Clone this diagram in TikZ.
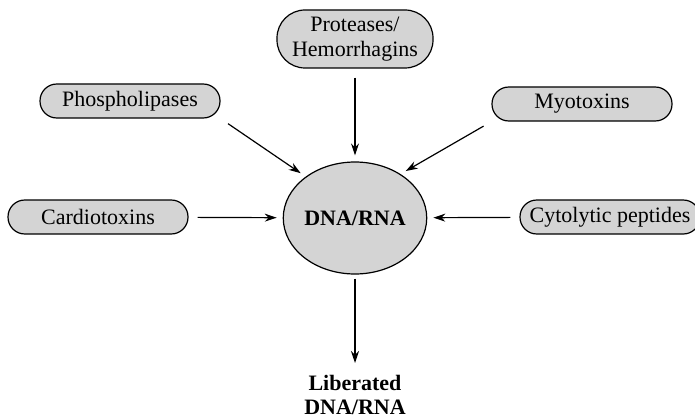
\documentclass[tikz,border=0pt]{standalone}
\usepackage{fontspec}
\setmainfont{Liberation Serif}
\usetikzlibrary{arrows.meta,shapes.geometric}

\begin{document}
\begin{tikzpicture}[x=0.5pt, y=-0.5pt,
  agent/.style={draw, fill=black!17, rounded corners=8.4pt, minimum width=90pt, minimum height=17pt, inner sep=1pt, line width=0.6pt, font=\fontsize{11}{12.5}\selectfont},
  core/.style={draw, ellipse, fill=black!17, minimum width=63pt, minimum height=56pt, inner sep=0pt, line width=0.6pt, font=\fontsize{11}{13}\selectfont\bfseries},
  link/.style={-{Stealth[length=6pt,width=4pt]}, line width=0.6pt, shorten <=4.5pt, shorten >=3pt}]
\useasboundingbox (0,0) rectangle (695,417);

% centre
\node[core] (dna) at (355,218) {DNA/RNA};

% toxins round it
\node[agent, minimum width=78pt, minimum height=29pt, rounded corners=14pt, align=center] (prot) at (355,39) {Proteases/\\Hemorrhagins};
\node[agent] (phos) at (130,101) {Phospholipases};
\node[agent] (myo) at (582,104) {Myotoxins};
\node[agent] (cardio) at (98,217) {Cardiotoxins};
\node[agent] (cyto) at (610,217) {Cytolytic peptides};

\node[font=\fontsize{11}{12}\selectfont\bfseries, align=center, inner sep=0pt, anchor=north] (lib) at (355,375) {Liberated\\DNA/RNA};

\draw[link] (prot) -- (dna);
\draw[link] (phos.south east) -- (dna.140);
\draw[link] (myo.south west) -- (dna.44);
\draw[link] (cardio) -- (dna);
\draw[link] (cyto) -- (dna);
\draw[link, shorten <=2pt, shorten >=6pt] (dna) -- (lib);
\end{tikzpicture}
\end{document}
